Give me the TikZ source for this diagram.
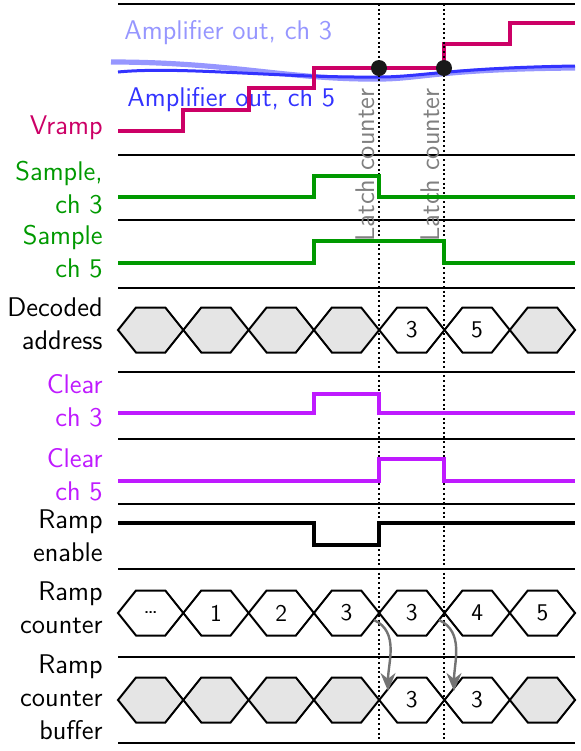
\documentclass[tikz,border=0pt]{standalone}
\usepackage{tikz}
\usetikzlibrary{arrows.meta}

\definecolor{rampcol}{RGB}{204,0,102}
\definecolor{samplecol}{RGB}{0,153,0}
\definecolor{clearcol}{RGB}{191,26,255}
\definecolor{ampfive}{RGB}{51,51,255}
\definecolor{ampthree}{RGB}{150,150,255}

\tikzset{
  siglabel/.style={anchor=east,align=right,inner sep=0pt},
  wave/.style={ultra thick,line join=miter},
  sep/.style={line width=1pt},
  dot/.style={circle,fill=black!90,inner sep=0pt,minimum size=8pt},
  latch/.style={rotate=90,anchor=south,text=black!50,inner sep=1pt},
  cellnum/.style={inner sep=0pt,font=\sffamily\fontsize{12}{14}\selectfont},
  copyarrow/.style={very thick,black!55,-{Stealth[length=9pt,width=7.5pt]}},
  pics/hexcell/.style={code={
    \draw[line width=1pt,fill=#1] (0,0) -- (18,-22.5) -- (47.3,-22.5) -- (65.3,0)
      -- (47.3,22.5) -- (18,22.5) -- cycle;
  }},
}

\begin{document}
\begin{tikzpicture}[x=0.5pt,y=-0.5pt,font=\sffamily\fontsize{13.5}{16.5}\selectfont]
    \useasboundingbox (0,0) rectangle (581,751);

    %separators
    \foreach \y in {4,155,220,288,372,439,504,569,657,743}
      \draw[sep] (118,\y) -- (575,\y);

    %amplifier outputs
    \draw[ampthree,line width=2.6pt] (111,62) .. controls (230,62) and (290,80) .. (379,79)
      .. controls (420,79) and (440,69) .. (575,68);
    \draw[ampfive,line width=1.5pt] (118,72) .. controls (180,66) and (280,78) .. (379,77)
      .. controls (420,77) and (450,68) .. (575,66);
    \node[anchor=west,text=ampthree,inner sep=0pt] (amp3) at (124,33) {Amplifier out, ch 3};
    \node[anchor=west,text=ampfive,inner sep=0pt] (amp5) at (127,100) {Amplifier out, ch 5};

    %Vramp
    \draw[wave,rampcol] (118,131) -| (183,110) -| (249,88) -| (314,68) -| (444,44) -| (510,23) -- (575,23);
    \node[siglabel,text=rampcol] (vramp) at (103,128) {Vramp};

    %latch instants
    \coordinate (lt1) at (379,4);
    \coordinate (lb1) at (379,743);
    \coordinate (lt2) at (444,4);
    \coordinate (lb2) at (444,743);
    \draw[line width=1pt,dash pattern=on 1pt off 1.35pt] (lt1) -- (lb1);
    \draw[line width=1pt,dash pattern=on 1pt off 1.35pt] (lt2) -- (lb2);
    \node[dot] (hit1) at (379,68) {};
    \node[dot] (hit2) at (444,68) {};
    \node[latch] (latch1) at (377,165) {Latch counter};
    \node[latch] (latch2) at (442,165) {Latch counter};

    %sample
    \draw[wave,samplecol] (118,197) -| (314,176) -| (379,197) -- (575,197);
    \draw[wave,samplecol] (118,263) -| (314,241) -| (444,263) -- (575,263);
    \node[siglabel,text=samplecol] (samp3) at (103,188) {Sample,\\ch 3};
    \node[siglabel,text=samplecol] (samp5) at (103,252) {Sample\\ch 5};

    %decoded address
    \foreach \i in {0,1,2,3,6}
      \pic at ({118+65.3*\i},330) {hexcell=gray!20};
    \foreach \i in {4,5}
      \pic at ({118+65.3*\i},330) {hexcell=white};
    \node[cellnum] (dec3) at (411.7,330) {3};
    \node[cellnum] (dec5) at (477,330) {5};
    \node[siglabel] (decoded) at (103,324) {Decoded\\address};

    %clear
    \draw[wave,clearcol] (118,413) -| (314,394) -| (379,413) -- (575,413);
    \draw[wave,clearcol] (118,481) -| (379,459) -| (444,481) -- (575,481);
    \node[siglabel,text=clearcol] (clr3) at (103,401) {Clear\\ch 3};
    \node[siglabel,text=clearcol] (clr5) at (103,475) {Clear\\ch 5};

    %ramp enable
    \draw[wave,black] (118,523) -| (314,545) -| (379,523) -- (575,523);
    \node[siglabel] (enable) at (103,536) {Ramp\\enable};

    %ramp counter
    \foreach \t [count=\i from 0] in {\dots,1,2,3,3,4,5} {
      \pic at ({118+65.3*\i},613) {hexcell=white};
      \node[cellnum] (cnt\i) at ({150.65+65.3*\i},613) {\t};
    }
    \node[siglabel] (counter) at (103,608) {Ramp\\counter};

    %counter buffer
    \foreach \i in {0,1,2,3,6}
      \pic at ({118+65.3*\i},700) {hexcell=gray!20};
    \foreach \i in {4,5}
      \pic at ({118+65.3*\i},700) {hexcell=white};
    \node[cellnum] (buf4) at (411.7,700) {3};
    \node[cellnum] (buf5) at (477,700) {3};
    \node[siglabel] (buffer) at (103,697) {Ramp\\counter\\buffer};

    %copy into buffer
    \coordinate (c1s) at (374,620);
    \coordinate (c1e) at (388,691);
    \coordinate (c2s) at (439,620);
    \coordinate (c2e) at (454,691);
    \draw[copyarrow] (c1s) to[out=-25,in=90] (c1e);
    \draw[copyarrow] (c2s) to[out=-25,in=90] (c2e);

\end{tikzpicture}
\end{document}
